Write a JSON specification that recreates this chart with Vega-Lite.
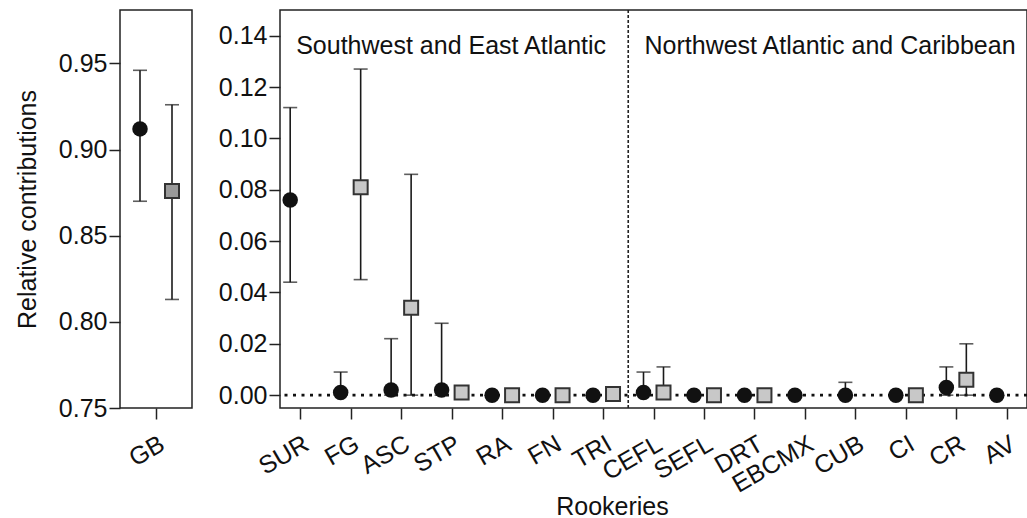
{
  "$schema": "https://vega.github.io/schema/vega-lite/v6.json",
  "padding": {"left": 14, "top": 8, "right": 0, "bottom": 0},
  "background": "white",
  "config": {
    "font": "Liberation Sans",
    "view": {"stroke": "#222", "strokeWidth": 1.5},
    "axis": {
      "grid": false, "domain": false,
      "labelFontSize": 25, "titleFontSize": 25, "titleFontWeight": "normal",
      "labelColor": "#111", "titleColor": "#111",
      "tickColor": "#222", "tickWidth": 1.5, "tickSize": 11, "labelPadding": 2
    }
  },
  "datasets": {
    "gb": [
      {"site": "GB", "series": "A", "mean": 0.912, "lo": 0.870, "hi": 0.946},
      {"site": "GB", "series": "B", "mean": 0.876, "lo": 0.813, "hi": 0.926}
    ],
    "rook": [
      {"site": "SUR", "series": "A", "mean": 0.076, "lo": 0.044, "hi": 0.112},
      {"site": "FG", "series": "A", "mean": 0.001, "lo": 0.0, "hi": 0.009},
      {"site": "FG", "series": "B", "mean": 0.081, "lo": 0.045, "hi": 0.127},
      {"site": "ASC", "series": "A", "mean": 0.002, "lo": 0.0, "hi": 0.022},
      {"site": "ASC", "series": "B", "mean": 0.034, "lo": 0.0, "hi": 0.086},
      {"site": "STP", "series": "A", "mean": 0.002, "lo": 0.0, "hi": 0.028},
      {"site": "STP", "series": "B", "mean": 0.001, "lo": 0.0, "hi": 0.001},
      {"site": "RA", "series": "A", "mean": 0.0, "lo": 0.0, "hi": 0.0},
      {"site": "RA", "series": "B", "mean": 0.0, "lo": 0.0, "hi": 0.0},
      {"site": "FN", "series": "A", "mean": 0.0, "lo": 0.0, "hi": 0.0},
      {"site": "FN", "series": "B", "mean": 0.0, "lo": 0.0, "hi": 0.0},
      {"site": "TRI", "series": "A", "mean": 0.0, "lo": 0.0, "hi": 0.0},
      {"site": "TRI", "series": "B", "mean": 0.0005, "lo": 0.0, "hi": 0.002},
      {"site": "CEFL", "series": "A", "mean": 0.001, "lo": 0.0, "hi": 0.009},
      {"site": "CEFL", "series": "B", "mean": 0.001, "lo": 0.0, "hi": 0.011},
      {"site": "SEFL", "series": "A", "mean": 0.0, "lo": 0.0, "hi": 0.0},
      {"site": "SEFL", "series": "B", "mean": 0.0, "lo": 0.0, "hi": 0.0},
      {"site": "DRT", "series": "A", "mean": 0.0, "lo": 0.0, "hi": 0.0},
      {"site": "DRT", "series": "B", "mean": 0.0, "lo": 0.0, "hi": 0.0},
      {"site": "EBCMX", "series": "A", "mean": 0.0, "lo": 0.0, "hi": 0.0},
      {"site": "CUB", "series": "A", "mean": 0.0, "lo": 0.0, "hi": 0.005},
      {"site": "CI", "series": "A", "mean": 0.0, "lo": 0.0, "hi": 0.0},
      {"site": "CI", "series": "B", "mean": 0.0, "lo": 0.0, "hi": 0.0},
      {"site": "CR", "series": "A", "mean": 0.003, "lo": 0.0, "hi": 0.011},
      {"site": "CR", "series": "B", "mean": 0.006, "lo": 0.0, "hi": 0.020},
      {"site": "AV", "series": "A", "mean": 0.0, "lo": 0.0, "hi": 0.0}
    ]
  },
  "spacing": 24,
  "hconcat": [
    {
      "width": 72, "height": 398,
      "data": {"name": "gb"},
      "encoding": {
        "x": {"field": "site", "type": "nominal", "scale": {"type": "point", "padding": 0.5},
              "axis": {"title": null, "labelAngle": -30, "labelAlign": "right", "labelBaseline": "top", "labelPadding": 12}},
        "y": {"type": "quantitative", "scale": {"domain": [0.75, 0.981], "nice": false, "zero": false},
              "axis": {"title": "Relative contributions", "values": [0.75, 0.8, 0.85, 0.9, 0.95], "format": ".2f", "titlePadding": 18}}
      },
      "layer": [
        {"transform": [{"filter": "datum.series === 'A'"}], "mark": {"type": "rule", "xOffset": -16, "strokeWidth": 1.6, "color": "#1a1a1a"},
         "encoding": {"y": {"field": "lo", "type": "quantitative"}, "y2": {"field": "hi"}}},
        {"transform": [{"filter": "datum.series === 'A'"}], "mark": {"type": "tick", "orient": "horizontal", "xOffset": -16, "size": 14, "thickness": 1.6, "color": "#1a1a1a"},
         "encoding": {"y": {"field": "hi", "type": "quantitative"}}},
        {"transform": [{"filter": "datum.series === 'A'"}], "mark": {"type": "tick", "orient": "horizontal", "xOffset": -16, "size": 14, "thickness": 1.6, "color": "#1a1a1a"},
         "encoding": {"y": {"field": "lo", "type": "quantitative"}}},
        {"transform": [{"filter": "datum.series === 'B'"}], "mark": {"type": "rule", "xOffset": 16, "strokeWidth": 1.6, "color": "#1a1a1a"},
         "encoding": {"y": {"field": "lo", "type": "quantitative"}, "y2": {"field": "hi"}}},
        {"transform": [{"filter": "datum.series === 'B'"}], "mark": {"type": "tick", "orient": "horizontal", "xOffset": 16, "size": 14, "thickness": 1.6, "color": "#1a1a1a"},
         "encoding": {"y": {"field": "hi", "type": "quantitative"}}},
        {"transform": [{"filter": "datum.series === 'B'"}], "mark": {"type": "tick", "orient": "horizontal", "xOffset": 16, "size": 14, "thickness": 1.6, "color": "#1a1a1a"},
         "encoding": {"y": {"field": "lo", "type": "quantitative"}}},
        {"transform": [{"filter": "datum.series === 'A'"}], "mark": {"type": "point", "shape": "circle", "filled": true, "size": 240, "color": "#111", "opacity": 1, "xOffset": -16},
         "encoding": {"y": {"field": "mean", "type": "quantitative"}}},
        {"transform": [{"filter": "datum.series === 'B'"}], "mark": {"type": "point", "shape": "square", "filled": true, "size": 196, "fill": "#9a9a9a", "stroke": "#333", "strokeWidth": 2, "opacity": 1, "xOffset": 16},
         "encoding": {"y": {"field": "mean", "type": "quantitative"}}}
      ]
    },
    {
      "width": 747, "height": 398,
      "data": {"name": "rook"},
      "encoding": {
        "x": {"field": "site", "type": "nominal",
              "scale": {"type": "point", "padding": 0.4, "domain": ["SUR", "FG", "ASC", "STP", "RA", "FN", "TRI", "CEFL", "SEFL", "DRT", "EBCMX", "CUB", "CI", "CR", "AV"]},
              "axis": {"title": "Rookeries", "labelAngle": -30, "labelAlign": "right", "labelBaseline": "top", "labelPadding": 12,
                       "titleX": 332, "titleY": 106, "titleAlign": "center", "titleBaseline": "alphabetic"}},
        "y": {"type": "quantitative", "scale": {"domain": [-0.005, 0.15], "nice": false, "zero": false},
              "axis": {"title": null, "values": [0, 0.02, 0.04, 0.06, 0.08, 0.1, 0.12, 0.14], "format": ".2f"}}
      },
      "layer": [
        {"data": {"values": [{"v": 0}]},
         "mark": {"type": "rule", "strokeDash": [3, 5.5], "strokeWidth": 2.6, "color": "#111"},
         "encoding": {"y": {"field": "v", "type": "quantitative"}, "x": null}},
        {"data": {"values": [{"site": "TRI"}]},
         "mark": {"type": "rule", "strokeDash": [3, 2], "strokeWidth": 1.6, "color": "#222", "xOffset": 25.2},
         "encoding": {}},
        {"data": {"values": [{"site": "SUR", "v": 0.133, "lab": "Southwest and East Atlantic"}]},
         "mark": {"type": "text", "align": "left", "baseline": "alphabetic", "fontSize": 25, "fill": "#111", "xOffset": -4},
         "encoding": {"y": {"field": "v", "type": "quantitative"}, "text": {"field": "lab"}}},
        {"data": {"values": [{"site": "CEFL", "v": 0.133, "lab": "Northwest Atlantic and Caribbean"}]},
         "mark": {"type": "text", "align": "left", "baseline": "alphabetic", "fontSize": 25, "fill": "#111", "xOffset": -9},
         "encoding": {"y": {"field": "v", "type": "quantitative"}, "text": {"field": "lab"}}},
        {"transform": [{"filter": "datum.series === 'A'"}], "mark": {"type": "rule", "xOffset": -10, "strokeWidth": 1.6, "color": "#1a1a1a"},
         "encoding": {"y": {"field": "lo", "type": "quantitative"}, "y2": {"field": "hi"}}},
        {"transform": [{"filter": "datum.series === 'A'"}], "mark": {"type": "tick", "orient": "horizontal", "xOffset": -10, "size": 14, "thickness": 1.6, "color": "#1a1a1a"},
         "encoding": {"y": {"field": "hi", "type": "quantitative"}}},
        {"transform": [{"filter": "datum.series === 'A'"}], "mark": {"type": "tick", "orient": "horizontal", "xOffset": -10, "size": 14, "thickness": 1.6, "color": "#1a1a1a"},
         "encoding": {"y": {"field": "lo", "type": "quantitative"}}},
        {"transform": [{"filter": "datum.series === 'B'"}], "mark": {"type": "rule", "xOffset": 10, "strokeWidth": 1.6, "color": "#1a1a1a"},
         "encoding": {"y": {"field": "lo", "type": "quantitative"}, "y2": {"field": "hi"}}},
        {"transform": [{"filter": "datum.series === 'B'"}], "mark": {"type": "tick", "orient": "horizontal", "xOffset": 10, "size": 14, "thickness": 1.6, "color": "#1a1a1a"},
         "encoding": {"y": {"field": "hi", "type": "quantitative"}}},
        {"transform": [{"filter": "datum.series === 'B'"}], "mark": {"type": "tick", "orient": "horizontal", "xOffset": 10, "size": 14, "thickness": 1.6, "color": "#1a1a1a"},
         "encoding": {"y": {"field": "lo", "type": "quantitative"}}},
        {"transform": [{"filter": "datum.series === 'A'"}], "mark": {"type": "point", "shape": "circle", "filled": true, "size": 240, "color": "#111", "opacity": 1, "xOffset": -10},
         "encoding": {"y": {"field": "mean", "type": "quantitative"}}},
        {"transform": [{"filter": "datum.series === 'B'"}], "mark": {"type": "point", "shape": "square", "filled": true, "size": 196, "fill": "#c8c8c8", "stroke": "#333", "strokeWidth": 2, "opacity": 1, "xOffset": 10},
         "encoding": {"y": {"field": "mean", "type": "quantitative"}}}
      ]
    }
  ]
}
